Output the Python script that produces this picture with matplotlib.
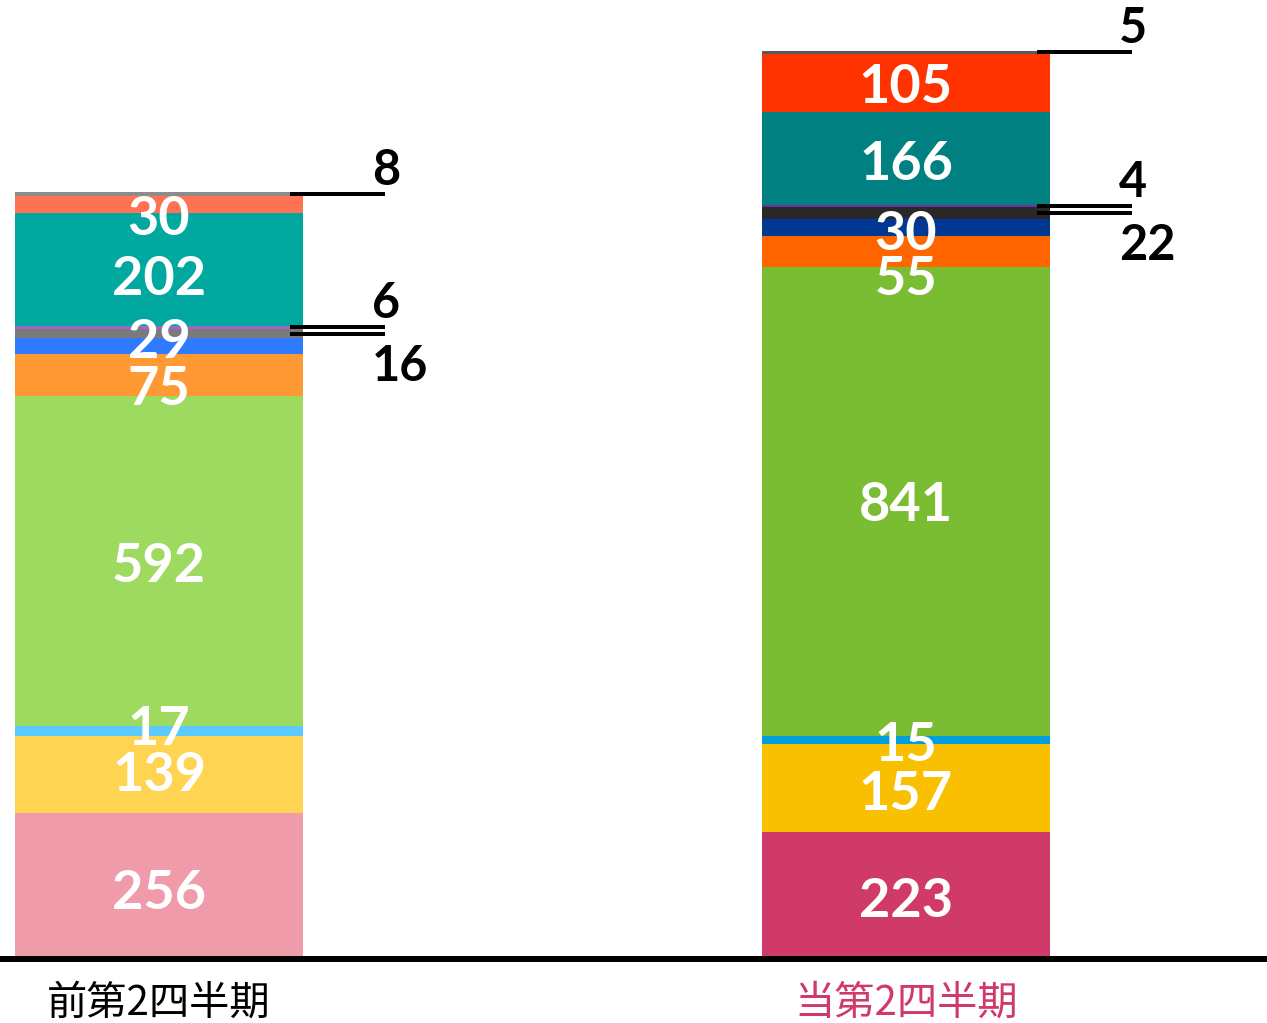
import matplotlib
matplotlib.use('Agg')
import matplotlib.pyplot as plt

# データ
categories = ['前第2四半期', '当第2四半期']
prev_values = [256, 139, 17, 592, 75, 29, 16, 6, 202, 30, 8]
curr_values = [223, 157, 15, 841, 55, 30, 22, 4, 166, 105, 5]

prev_colors = ['#F09BAA', '#FFD452', '#5BCBFF', '#9DDA5F', '#FF9933', '#2F7BFF',
               '#7A7A7A', '#A066CC', '#00A8A0', '#FF7352', '#8C8C8C']
curr_colors = ['#D03A68', '#F8C000', '#009FDC', '#7ABD32', '#FF6600', '#003893',
               '#282828', '#7030A0', '#008080', '#FF3300', '#595959']

# 外側に出すラベル (index, 上/下)
outside = {10: 'above', 7: 'above', 6: 'below'}
# 内側ラベルの縦ずれ (px, 下向き正)
prev_shift = [4, -3, -6, 1, 10, -8, 0, 0, 6, 10, 0]
curr_shift = [3, 2, 1, 0, 24, 2, 0, 0, 2, 0, 0]

label_colors = ['black', '#D03A68']

plt.rcParams['font.family'] = ['Lato', 'DejaVu Sans']
PT = 0.72  # px -> pt (dpi 100)

fig = plt.figure(figsize=(12.67, 10.23), dpi=100)
ax = fig.add_axes([0, 1 - 959 / 1023, 1, 959 / 1023])

bar_w = 0.3855
ax.set_xlim(-0.2129, 1.4833)
ax.set_ylim(-5.4, 1714)


def draw_bar(xpos, values, colors, shifts):
    bottom = 0
    for i, (v, c) in enumerate(zip(values, colors)):
        ax.bar(xpos, v, bottom=bottom, width=bar_w, color=c, zorder=3)
        mid = bottom + v / 2
        if i in outside:
            right = xpos + bar_w / 2
            ax.plot([right - 13 / 747, right + 82 / 747], [mid, mid],
                    color='black', lw=4 * PT, solid_capstyle='butt', zorder=4)
            dy = 9 * PT if outside[i] == 'above' else -47 * PT
            ax.annotate(str(v), xy=(right, mid), xytext=(69 * PT, dy),
                        textcoords='offset points', ha='left', va='baseline',
                        fontsize=35, fontweight='bold', color='black')
        else:
            ax.annotate(str(v), xy=(xpos, mid),
                        xytext=(0, -(shifts[i] + 20) * PT),
                        textcoords='offset points', ha='center', va='baseline',
                        fontsize=39, fontweight='bold', color='white', zorder=5)
        bottom += v


draw_bar(0, prev_values, prev_colors, prev_shift)
draw_bar(1, curr_values, curr_colors, curr_shift)

for i, (cat, col) in enumerate(zip(categories, label_colors)):
    ax.annotate(cat, xy=(i, 0), xycoords=('data', 'axes fraction'),
                xytext=(0, -44 * PT), textcoords='offset points',
                ha='center', va='center', fontsize=29, color=col,
                family=['Noto Sans CJK JP', 'DejaVu Sans'])

for s in ['top', 'right', 'left']:
    ax.spines[s].set_visible(False)
ax.spines['bottom'].set_linewidth(6 * PT)
ax.spines['bottom'].set_zorder(2)
ax.set_xticks([])
ax.set_yticks([])
ax.patch.set_alpha(0)

plt.savefig('out.png', dpi=100)
plt.close()
